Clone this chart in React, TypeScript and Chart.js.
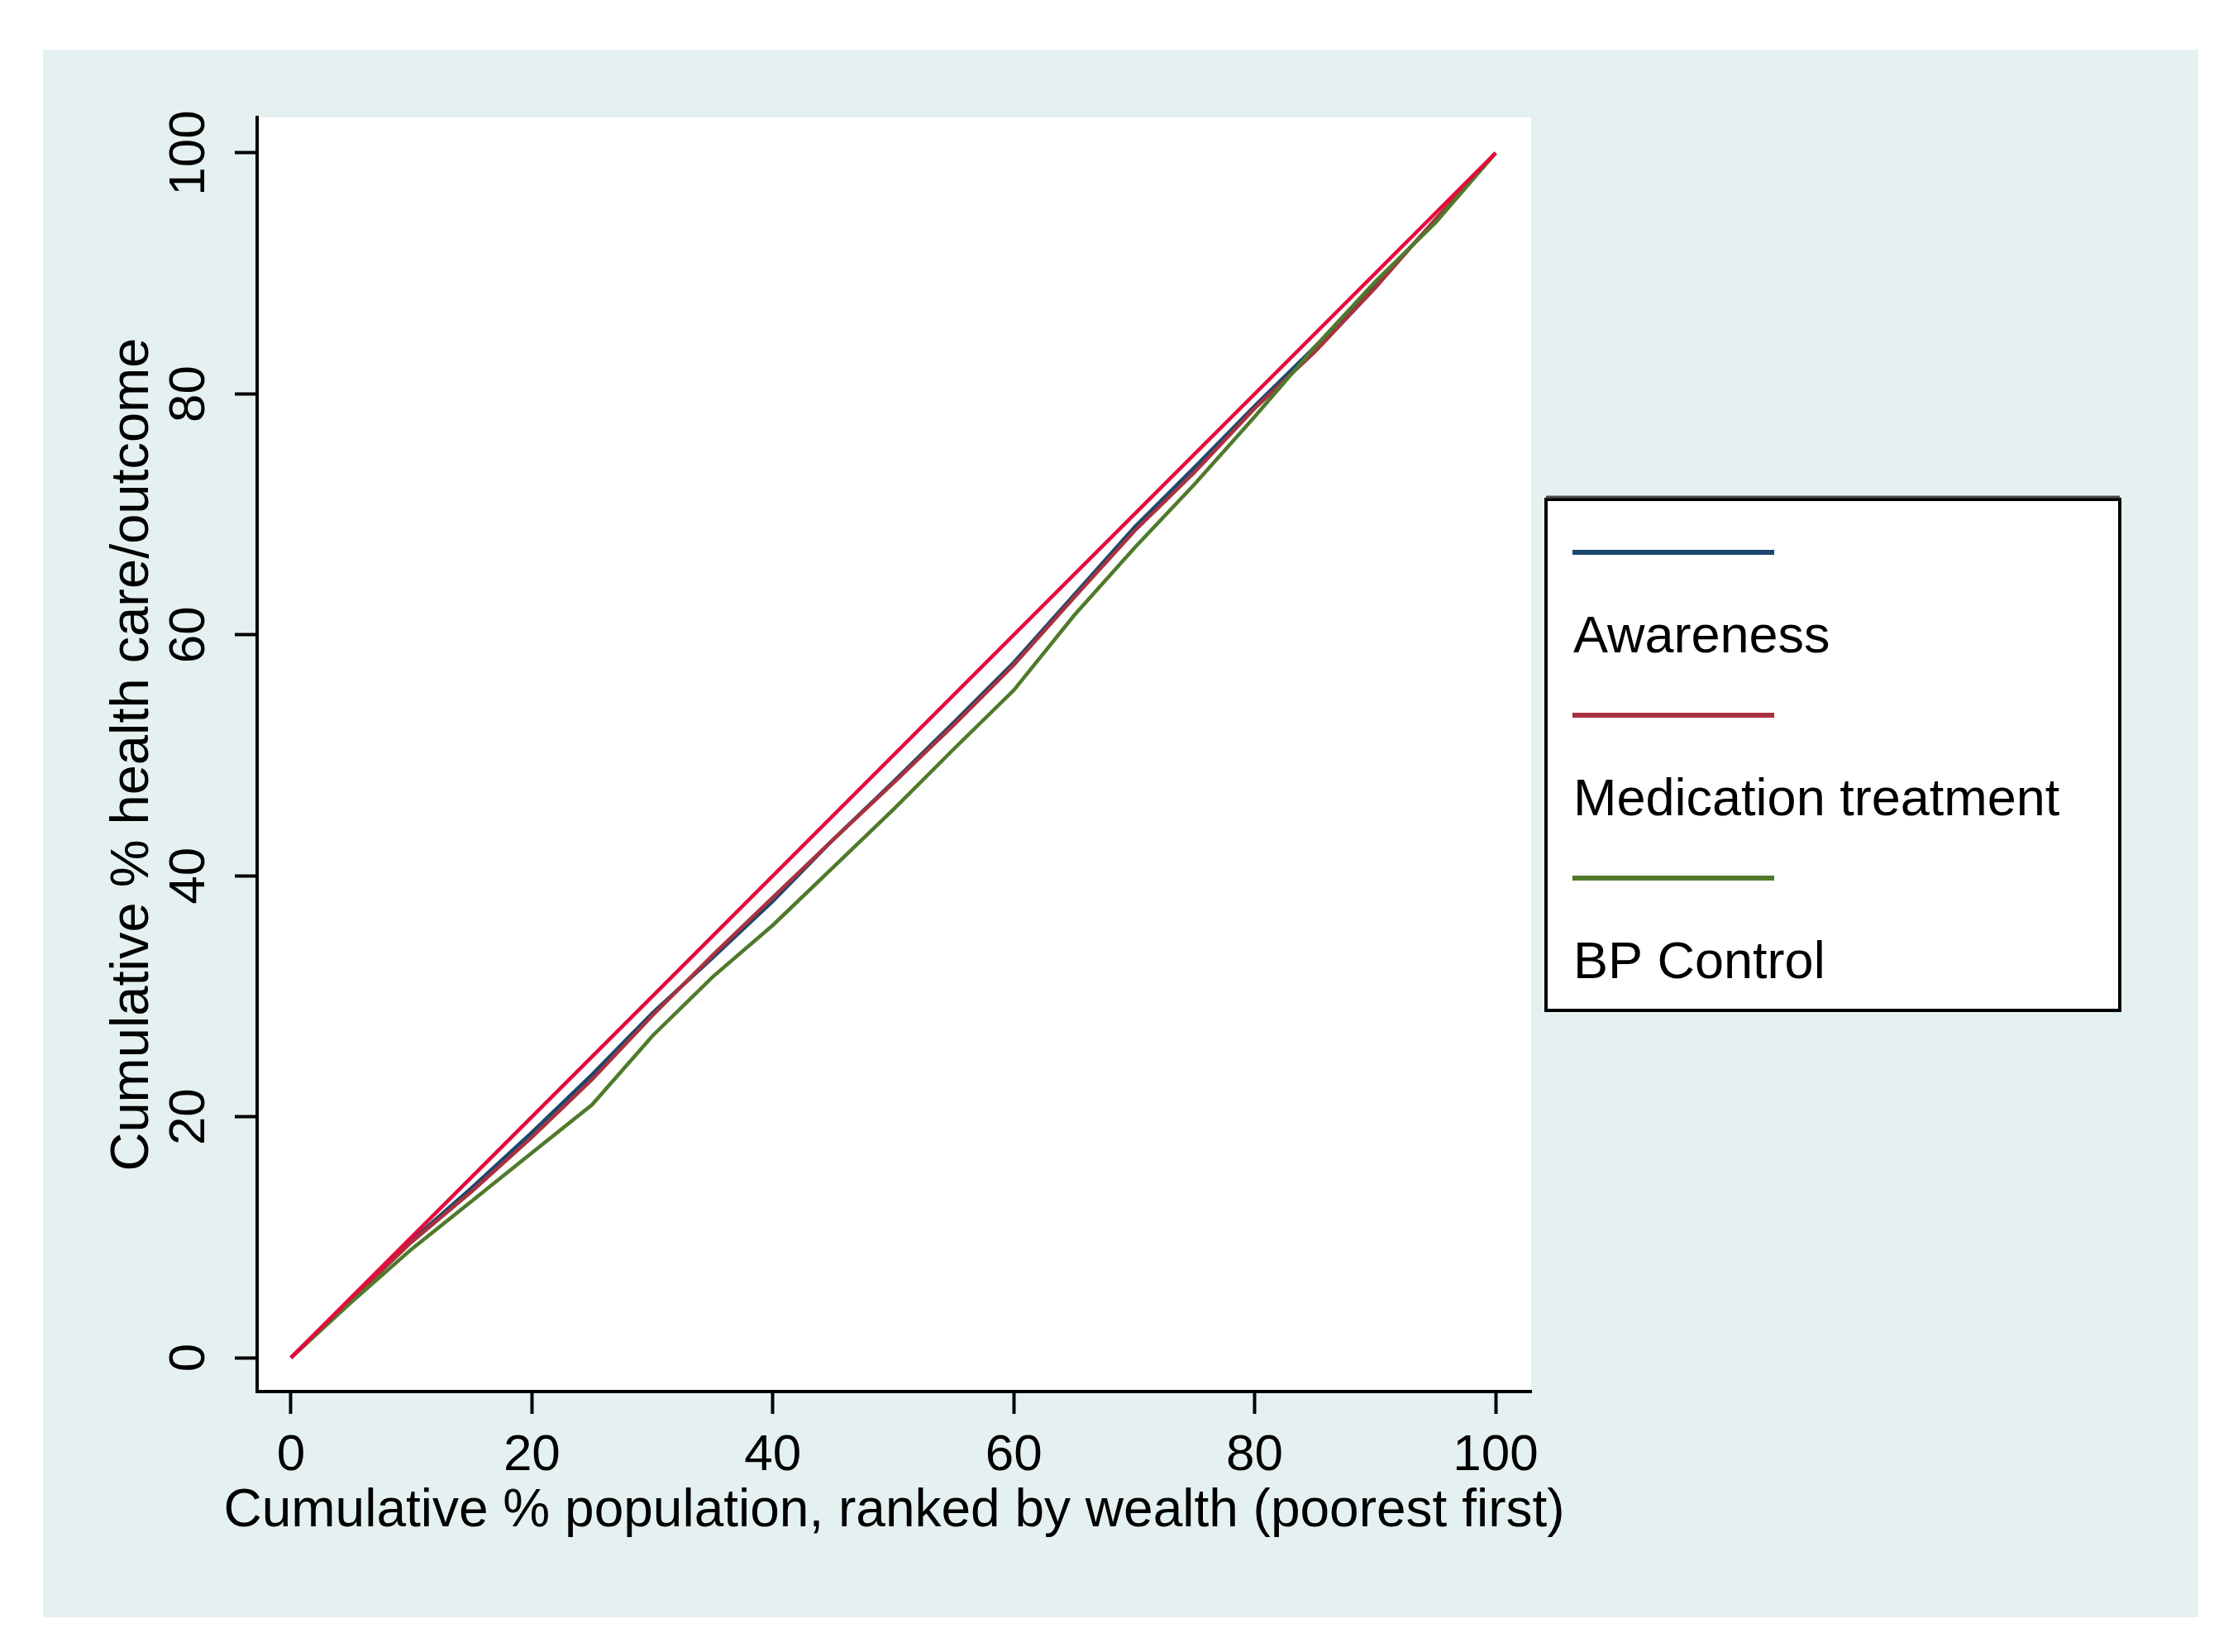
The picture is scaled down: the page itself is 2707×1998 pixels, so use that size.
import React, { useEffect, useRef } from "react";
import { Chart, registerables } from "chart.js";

Chart.register(...registerables);

// ---- data ----
const populationPct = [0, 5, 10, 15, 20, 25, 30, 35, 40, 45, 50, 55, 60, 65, 70, 75, 80, 85, 90, 95, 100];
const awareness = [0, 4.9, 9.7, 14.1, 18.7, 23.5, 28.6, 33.2, 37.9, 43.0, 47.8, 52.7, 57.7, 63.3, 68.9, 73.9, 79.0, 83.9, 89.0, 94.4, 100];
const medication = [0, 4.8, 9.6, 13.8, 18.3, 23.1, 28.4, 33.4, 38.2, 43.0, 47.7, 52.5, 57.5, 63.1, 68.6, 73.5, 78.8, 83.5, 88.8, 94.5, 100];
const bpControl = [0, 4.6, 9.0, 13.0, 17.0, 21.0, 26.7, 31.6, 35.9, 40.7, 45.5, 50.5, 55.4, 61.6, 67.2, 72.5, 78.1, 83.9, 89.3, 94.2, 100];
const equalityX = [0, 100];
const equalityY = [0, 100];
const tickValues = [0, 20, 40, 60, 80, 100];
const seriesLabels = ["Awareness", "Medication treatment", "BP Control"];
const xTitle = "Cumulative % population, ranked by wealth (poorest first)";
const yTitle = "Cumulative % health care/outcome";

const FONT = "'Liberation Sans', Arial, Helvetica, sans-serif";
const CANVAS_W = 2607;
const CANVAS_H = 1896;

const toPoints = (xs: number[], ys: number[]) => xs.map((x, i) => ({ x, y: ys[i] }));

const plotBackground = {
  id: "plotBackground",
  beforeDraw(chart: any) {
    const { ctx, chartArea: a } = chart;
    ctx.save();
    ctx.fillStyle = "#ffffff";
    ctx.fillRect(a.left, a.top, a.right - a.left, a.bottom - a.top);
    ctx.restore();
  },
};

// x-axis title drawn without Chart.js's max-width squeeze (the title is wider than the plot)
const wideXTitle = {
  id: "wideXTitle",
  afterDraw(chart: any) {
    const { ctx, chartArea: a } = chart;
    const xs = chart.scales.x;
    ctx.save();
    ctx.fillStyle = "#000000";
    ctx.font = `64px ${FONT}`;
    ctx.textAlign = "center";
    ctx.textBaseline = "middle";
    ctx.fillText(xTitle, (a.left + a.right) / 2, xs.bottom - 34);
    ctx.restore();
  },
};

const stataLegend = {
  id: "stataLegend",
  afterDraw(chart: any) {
    const { ctx } = chart;
    const box = { left: 1818, top: 544, right: 2512, bottom: 1162 };
    ctx.save();
    ctx.fillStyle = "#ffffff";
    ctx.fillRect(box.left, box.top, box.right - box.left, box.bottom - box.top);
    ctx.strokeStyle = "#000000";
    ctx.lineWidth = 4;
    ctx.strokeRect(box.left, box.top, box.right - box.left, box.bottom - box.top);
    ctx.strokeStyle = "#4a4a4a";
    ctx.lineWidth = 3;
    ctx.beginPath();
    ctx.moveTo(box.left, box.top - 3);
    ctx.lineTo(box.right, box.top - 3);
    ctx.stroke();
    const items = chart.data.datasets.filter((d: any) => d.inLegend);
    const keyLeft = box.left + 32;
    const keyRight = box.left + 276;
    items.forEach((d: any, i: number) => {
      const keyY = box.top + 64 + i * 197;
      ctx.strokeStyle = d.borderColor;
      ctx.lineWidth = 6;
      ctx.beginPath();
      ctx.moveTo(keyLeft, keyY);
      ctx.lineTo(keyRight, keyY);
      ctx.stroke();
      ctx.fillStyle = "#000000";
      ctx.font = `63px ${FONT}`;
      ctx.textAlign = "left";
      ctx.textBaseline = "middle";
      ctx.fillText(d.label, keyLeft + 1, keyY + 104);
    });
    ctx.restore();
  },
};

export default function App() {
  const canvasRef = useRef<HTMLCanvasElement | null>(null);

  useEffect(() => {
    if (!canvasRef.current) return;
    const axisCommon = {
      type: "linear" as const,
      min: -2.81,
      max: 102.95,
      grid: {
        display: true,
        drawOnChartArea: false,
        drawTicks: true,
        tickLength: 27,
        tickWidth: 4,
        tickColor: "#000000",
        color: "#000000",
      },
      border: { display: true, color: "#000000", width: 4 },
      afterBuildTicks: (axis: any) => {
        axis.ticks = tickValues.map((v) => ({ value: v }));
      },
    };
    const lineStyle = { borderWidth: 4.5, pointRadius: 0, tension: 0 };
    const chart = new Chart(canvasRef.current, {
      type: "line",
      data: {
        datasets: [
          {
            label: seriesLabels[0],
            data: toPoints(populationPct, awareness),
            borderColor: "#1a476f",
            ...lineStyle,
            order: 3,
            inLegend: true,
          } as any,
          {
            label: seriesLabels[1],
            data: toPoints(populationPct, medication),
            borderColor: "#a8323e",
            ...lineStyle,
            order: 2,
            inLegend: true,
          } as any,
          {
            label: seriesLabels[2],
            data: toPoints(populationPct, bpControl),
            borderColor: "#4f7a2b",
            ...lineStyle,
            order: 1,
            inLegend: true,
          } as any,
          {
            label: "Line of equality",
            data: toPoints(equalityX, equalityY),
            borderColor: "#e8083c",
            ...lineStyle,
            order: 0,
            inLegend: false,
          } as any,
        ],
      },
      options: {
        animation: false,
        responsive: false,
        devicePixelRatio: 1,
        layout: { padding: { left: 70, top: 82, right: 807, bottom: 94 } },
        plugins: {
          legend: { display: false },
          tooltip: { enabled: false },
        },
        scales: {
          x: {
            ...axisCommon,
            position: "bottom",
            afterFit: (scale: any) => {
              scale.height = 179;
            },
            ticks: {
              autoSkip: false,
              maxRotation: 0,
              minRotation: 0,
              padding: 14,
              color: "#000000",
              font: { family: FONT, size: 62 },
            },
            title: { display: false },
          },
          y: {
            ...axisCommon,
            position: "left",
            afterFit: (scale: any) => {
              scale.width = 189;
            },
            ticks: {
              autoSkip: false,
              minRotation: 90,
              maxRotation: 90,
              crossAlign: "center",
              padding: 2,
              color: "#000000",
              font: { family: FONT, size: 62 },
            },
            title: {
              display: true,
              text: yTitle,
              color: "#000000",
              padding: 0,
              font: { family: FONT, size: 65 },
            },
          },
        } as any,
      },
      plugins: [plotBackground, wideXTitle, stataLegend],
    });
    return () => chart.destroy();
  }, []);

  return (
    <div
      style={{
        position: "absolute",
        left: 52,
        top: 60,
        width: CANVAS_W,
        height: CANVAS_H,
        background: "#e5f1f1",
      }}
    >
      <canvas
        ref={canvasRef}
        width={CANVAS_W}
        height={CANVAS_H}
        style={{ width: CANVAS_W, height: CANVAS_H, display: "block" }}
      />
    </div>
  );
}
